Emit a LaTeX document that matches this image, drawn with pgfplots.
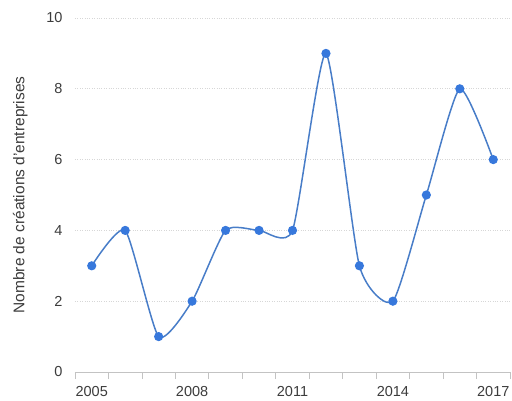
\documentclass[border=0pt]{standalone}
\usepackage{pgfplots}
\pgfplotsset{compat=1.18}
\usepackage{fontspec}
\setmainfont{Liberation Sans}
\definecolor{lineblue}{RGB}{72,125,200}
\definecolor{markblue}{RGB}{55,120,220}
\definecolor{gridgray}{RGB}{215,215,215}
\definecolor{axgray}{RGB}{195,195,195}
\definecolor{txtgray}{RGB}{60,60,60}
\begin{document}
\begin{tikzpicture}
\useasboundingbox (-75pt,-28pt) rectangle (437pt,372pt);
\begin{axis}[
  at={(0,0)}, anchor=south west,
  scale only axis,
  width=435pt, height=354pt,
  xmin=-0.5, xmax=12.5,
  ymin=0, ymax=10,
  axis x line*=bottom,
  axis y line*=left,
  y axis line style={draw=none},
  x axis line style={draw=axgray, line width=0.8pt, -},
  xtick={0,3,6,9,12},
  xticklabels={2005,2008,2011,2014,2017},
  xtick style={draw=none},
  ytick style={draw=none},
  extra x ticks={-0.5,0.5,1.5,2.5,3.5,4.5,5.5,6.5,7.5,8.5,9.5,10.5,11.5,12.5},
  extra x tick labels={},
  extra x tick style={major tick length=7pt, tick align=outside, xtick style={draw=axgray, line width=0.8pt}, grid=none},
  ytick={0,2,4,6,8,10},
  ymajorgrids,
  grid style={draw=gridgray, dotted, line width=0.8pt},
  /pgf/number format/assume math mode=true,
  tick label style={font=\fontsize{14.5}{16}\selectfont, text=txtgray},
  yticklabel style={xshift=-9pt},
  xticklabel style={yshift=-24pt, anchor=base},
  ylabel={Nombre de créations d'entreprises},
  every axis y label/.style={at={(axis description cs:-0.126,0.5)}, rotate=90, anchor=center, font=\fontsize{15.5}{17}\selectfont, text=txtgray},
  clip=false,
]
\addplot[lineblue, line width=1.5pt, smooth, tension=0.35, mark=*, mark size=3.8pt, mark options={fill=markblue, draw=markblue}]
coordinates {(0,3) (1,4) (2,1) (3,2) (4,4) (5,4) (6,4) (7,9) (8,3) (9,2) (10,5) (11,8) (12,6)};
\end{axis}
\end{tikzpicture}
\end{document}
